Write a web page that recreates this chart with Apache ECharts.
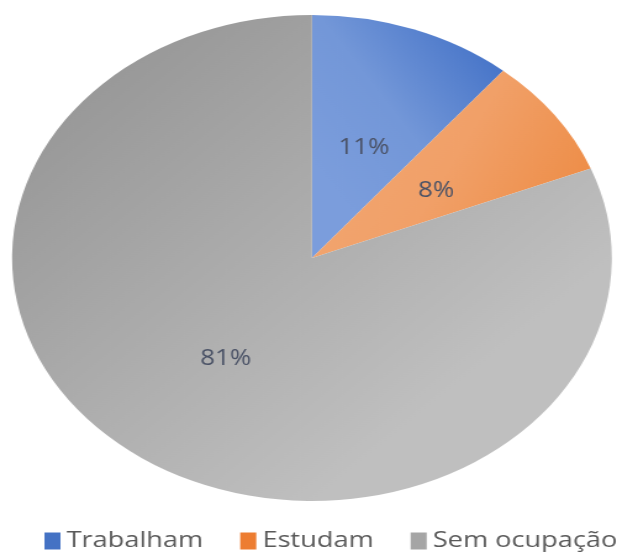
<!DOCTYPE html>
<html>
<head>
<meta charset="utf-8">
<script src="https://cdn.jsdelivr.net/npm/echarts@6/dist/echarts.min.js"></script>
<style>
html,body{margin:0;padding:0;background:#fff;overflow:hidden;width:617px;height:556px;}
#chart{width:500px;height:556px;transform:scaleX(1.234);transform-origin:0 0;}
</style>
</head>
<body>
<div id="chart"></div>
<script>
var categories = ['Trabalham', 'Estudam', 'Sem ocupação'];
var values = [11, 8, 81];

var fills = [
  {type:'linear', x:0, y:0.6, x2:1, y2:0.2, colorStops:[{offset:0,color:'#7b9ddc'},{offset:0.45,color:'#7397d8'},{offset:1,color:'#4674c8'}]},
  {type:'linear', x:0, y:0.2, x2:1, y2:0.8, colorStops:[{offset:0,color:'#f2a874'},{offset:0.5,color:'#f1a068'},{offset:1,color:'#ed8a42'}]},
  {type:'linear', x:0, y:0.1, x2:0.7, y2:0.8, colorStops:[{offset:0,color:'#939393'},{offset:1,color:'#bfbfbf'}]}
];
var legendColors = ['#4472c4', '#ed7d31', '#a5a5a5'];
var labelOffsets = [[0,7],[0,6],[0,-2]];

var data = categories.map(function(c, i){
  return {name:c, value:values[i], itemStyle:{color:fills[i]}, label:{offset:labelOffsets[i]}};
});

var chart = echarts.init(document.getElementById('chart'));
chart.setOption({
  animation:false,
  color: legendColors,
  legend:{
    data: categories.map(function(c,i){return {name:c, itemStyle:{color:legendColors[i]}};}),
    top: 530,
    left: 36,
    width: 700,
    padding: 0,
    itemWidth: 13,
    itemHeight: 17,
    itemGap: 30,
    icon: 'rect',
    textStyle:{fontFamily:'Open Sans', fontSize:22, color:'#595959'}
  },
  series:[{
    type:'pie',
    center:[252.8, 258],
    radius:[0, 243],
    startAngle:90,
    clockwise:true,
    avoidLabelOverlap:false,
    label:{
      show:true,
      position:'inside',
      formatter:function(p){return Math.round(p.percent)+'%';},
      fontFamily:'Open Sans',
      fontSize:21,
      color:'#4a5266'
    },
    labelLine:{show:false},
    itemStyle:{borderWidth:0},
    emphasis:{disabled:true},
    data:data
  }]
});
</script>
</body>
</html>
